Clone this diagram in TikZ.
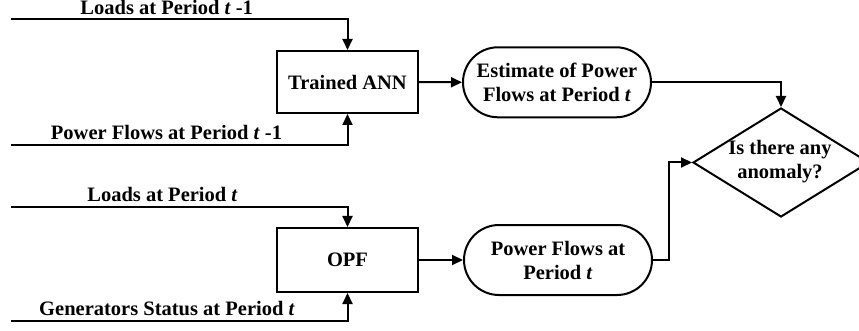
\documentclass[tikz,border=0pt]{standalone}
\usepackage{fontspec}
\setmainfont{Liberation Serif}
\usetikzlibrary{arrows.meta,shapes.geometric}
\tikzset{
  conn/.style={line width=2pt},
  arr/.style={conn,-{Triangle[length=11pt,width=10pt]}},
  procbox/.style={draw,line width=2pt,minimum width=141pt,minimum height=62pt,inner sep=0pt},
  stadium/.style={draw,line width=2pt,rounded corners=35pt,minimum width=188pt,minimum height=70pt,inner sep=0pt,align=center},
  lbl/.style={anchor=base,inner sep=0pt},
}
\begin{document}
\begin{tikzpicture}[x=1pt,y=-1pt,font=\fontsize{20.5}{24}\selectfont\bfseries]
\useasboundingbox (0,0) rectangle (859,331);
% inputs
\coordinate (s1) at (11,19.5);
\coordinate (s2) at (11,145);
\coordinate (s3) at (11,207.5);
\coordinate (s4) at (11,321);
% nodes
\node[procbox] (ann) at (347.5,82) {Trained ANN};
\node[procbox,minimum height=64pt] (opf) at (347.5,260) {OPF};
\node[stadium] (est) at (557,82.3) {Estimate of Power\\Flows at Period \textit{t}};
\node[stadium] (pf) at (558,260) {Power Flows at\\Period \textit{t}};
\node[draw,shape=diamond,line width=2pt,minimum width=176pt,minimum height=109pt,inner sep=0pt] (d) at (781,162.5) {};
\node[align=center,inner sep=0pt] (dt) at (780,162) {Is there any\\anomaly?};
% labels
\node[lbl] (l1) at (166.7,15) {Loads at Period \textit{t} -1};
\node[lbl] (l2) at (166.5,140) {Power Flows at Period \textit{t} -1};
\node[lbl] (l3) at (162.5,202) {Loads at Period \textit{t}};
\node[lbl] (l4) at (167,315) {Generators Status at Period \textit{t}};
% connectors
\draw[arr] (s1) -| (ann.north);
\draw[arr] (s2) -| (ann.south);
\draw[arr] (s3) -| (opf.north);
\draw[arr] (s4) -| (opf.south);
\draw[arr] (ann.east) -- (est.west);
\draw[arr] (opf.east) -- (pf.west);
\draw[arr] (est.east) -| (d.north);
\draw[arr] (pf.east) -- ++(16,0) |- (d.west);
\end{tikzpicture}
\end{document}
